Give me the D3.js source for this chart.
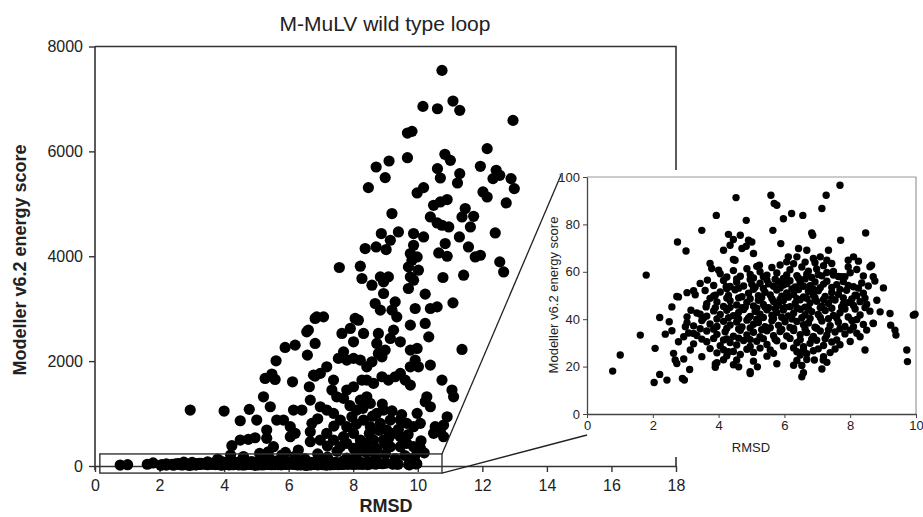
<!DOCTYPE html>
<html>
<head>
<meta charset="utf-8">
<script src="https://cdn.jsdelivr.net/npm/d3@7"></script>
<style>
  body { margin: 0; background: #fff; }
  text { font-family: "Liberation Sans", Arial, sans-serif; fill: #222; }
</style>
</head>
<body>
<svg id="chart" width="923" height="517"></svg>
<script>
// ---- data: [RMSD, energy] ----

// main plot, points well above the zoomed band
const mainHigh = [
  [10.75,7544],[10.16,6858],[10.61,6813],[11.09,6960],[11.30,6782],[12.95,6591],
  [9.68,6349],[9.82,6382],[12.15,6052],[8.71,5702],[9.11,5816],[9.68,5880],
  [10.84,5944],[11.01,5829],[8.99,5500],[8.47,5309],[10.61,5671],[10.70,5492],
  [11.30,5576],[11.23,5397],[11.94,5715],[12.43,5639],[12.54,5544],[12.33,5481],
  [12.89,5481],[12.99,5290],[12.02,5226],[12.15,5130],[12.74,5016],[10.18,5309],
  [9.98,5207],[10.91,5081],[10.70,5036],[10.49,4972],[9.20,4814],[11.47,4909],
  [11.37,4749],[11.73,4762],[11.63,4559],[10.39,4749],[10.60,4635],[10.75,4591],
  [10.96,4559],[12.40,4444],[8.87,4433],[9.15,4305],[9.40,4463],[8.37,4147],
  [8.71,4178],[9.02,4128],[9.87,4433],[10.18,4368],[9.87,4210],[9.77,4052],
  [9.98,3987],[10.85,4242],[10.65,4063],[10.91,4000],[11.29,4368],[11.57,4178],
  [11.94,4019],[11.78,3987],[12.54,3892],[12.66,3701],[7.57,3785],[8.22,3810],
  [8.27,3576],[8.84,3606],[9.09,3606],[8.58,3448],[8.94,3511],[9.71,3797],
  [9.82,3924],[10.02,3734],[9.77,3606],[10.78,3595],[11.42,3639],[9.71,3385],
  [9.87,3543],[10.23,3277],[8.94,3290],[8.68,3099],[8.84,2972],[9.30,3130],
  [9.20,2972],[9.92,3004],[10.39,3004],[10.60,3035],[11.09,3111],[6.87,2844],
  [7.08,2844],[8.06,2814]
];

const mainMid = [
  [2.95,1067],[4.00,1048],[4.50,863],[4.78,1080],[5.01,876],[4.24,387],
  [4.50,495],[4.75,508],[4.96,539],[5.22,1320],[5.43,1130],[5.27,1670],
  [5.48,1753],[5.58,1651],[5.61,2006],[5.89,2261],[6.20,2305],[6.12,1606],
  [5.32,686],[5.32,528],[5.53,368],[5.63,876],[5.84,876],[6.05,749],
  [6.20,623],[6.05,559],[6.15,1067],[6.41,1067],[6.56,2558],[6.82,2814],
  [6.82,2337],[6.58,2115],[6.64,1511],[6.82,1714],[6.67,1257],[6.72,813],
  [6.67,653],[6.67,463],[6.30,305],[5.37,272],[5.79,210],[6.61,2591],
  [7.65,2528],[7.91,2623],[8.16,2781],[8.01,2368],[8.32,2528],[9.35,2844],
  [9.77,2686],[10.23,2718],[10.34,2463],[9.25,2591],[9.15,2432],[9.46,2368],
  [9.77,2210],[9.98,2242],[8.78,2528],[8.73,2337],[8.99,2210],[8.78,2147],
  [11.37,2223],[7.70,2177],[7.54,2052],[7.80,2019],[8.01,2052],[8.22,2019],
  [8.42,1892],[8.58,1987],[8.89,2082],[6.77,1733],[6.98,1766],[7.18,1892],
  [7.39,1638],[7.34,1448],[7.49,1320],[7.70,1289],[7.80,1448],[8.01,1511],
  [8.27,1638],[8.42,1638],[8.63,1575],[8.89,1702],[9.09,1638],[9.30,1702],
  [9.46,1766],[9.61,1638],[9.77,1543],[9.77,1892],[9.92,2019],[10.02,1892],
  [10.39,1924],[10.75,1638],[11.06,1448],[11.11,1320],[10.28,1320],[10.23,1225],
  [10.39,1130],[10.91,939],[10.54,749],[10.70,653],[10.80,781],[9.98,1004],
  [10.08,813],[9.87,749],[9.66,813],[9.46,876],[9.15,876],[8.94,1067],
  [8.73,1004],[8.53,1194],[8.42,1320],[8.22,1257],[8.11,1067],[7.96,939],
  [8.32,876],[8.53,749],[8.84,813],[9.04,686],[9.25,623],[9.46,559],
  [9.66,432],[8.94,495],[8.63,495],[8.42,432],[8.22,495],[8.01,623],
  [7.80,749],[7.60,876],[7.39,1004],[7.18,1067],[6.98,1130],[6.98,495],
  [7.18,623],[7.39,495],[7.60,368],[7.80,432],[8.01,337],[8.42,337],
  [8.73,337],[9.15,368],[9.46,368],[9.87,368],[10.08,337],[10.49,623],
  [10.80,559],[7.90,1150],[8.30,1100],[8.60,950],[8.90,1180],[9.20,1050],
  [9.50,980],[8.10,800],[8.50,620],[8.80,680],[9.10,530],[9.40,700],
  [7.70,560],[8.20,380],[8.60,280],[9.00,420],[9.70,600],[10.10,480],
  [7.40,760],[7.20,380],[6.90,900]
];

const mainLow = [
  [3.8,130],[4.2,210],[4.6,180],[5.1,240],[5.4,150],[5.9,260],[6.2,190],
  [6.5,140],[6.9,230],[7.2,170],[7.5,280],[7.8,150],[8.1,210],[8.4,260],
  [8.7,160],[9.0,230],[9.3,140],[9.6,200],[9.9,170],[10.2,250]
];

// inset (energy 0-100): scattered points
const insetSparse = [
  [0.78,18.1],[1.01,24.9],[1.62,33.3],[1.80,58.6],[2.07,27.7],[2.04,13.3],
  [2.21,16.7],[2.43,14.3],[2.21,40.7],[2.38,33.7],[2.58,35.1],[2.58,45.2],
  [2.50,38.9],[2.63,25.6],[2.68,22.8],[2.73,21.3],[2.75,72.6],[2.78,49.4],
  [2.78,30.5],[2.90,15.0],[2.96,14.3],[2.94,23.2],[3.01,68.8],[2.94,32.6],
  [2.99,36.8],[3.04,41.0],[3.12,18.8],[3.14,27.0],[3.24,52.0],[3.16,43.8],
  [3.24,34.0],[3.44,42.1],[3.49,24.2],[3.49,77.5],[3.62,45.2],[3.66,56.5],
  [3.74,63.5],[3.79,61.4],[3.90,50.1],[3.90,21.1],[3.90,19.7],[3.93,83.8],
  [4.00,60.7],[4.15,69.1],[4.15,31.2],[4.23,53.7],[4.30,75.8],[4.35,71.2],
  [4.30,26.3],[4.45,73.6],[4.45,65.2],[4.50,64.9],[4.53,91.3],[4.55,22.8],
  [4.61,19.9],[4.66,75.4],[4.71,69.8],[4.84,70.8],[4.91,73.3],[4.96,17.1],
  [4.84,81.7],[5.06,67.7],[5.18,19.9],[5.24,62.8],[5.01,72.6],[5.59,92.3],
  [5.69,88.8],[5.77,88.1],[5.97,82.4],[5.65,77.5],[5.89,71.9],[6.22,84.6],
  [6.56,83.8],[6.43,69.8],[6.83,76.4],[6.86,75.4],[7.14,86.7],[7.27,92.3],
  [7.34,69.1],[7.69,96.5],[7.71,73.3],[8.47,76.4],[6.53,15.7],[6.91,22.8],
  [7.14,19.0],[7.18,22.8],[6.28,20.6],[8.15,50.1],[8.45,27.0],[9.01,53.2],
  [9.21,42.4],[9.23,37.5],[9.36,35.4],[9.39,33.3],[9.72,27.0],[9.74,22.1],
  [9.92,41.7],[9.97,42.1],[8.60,62.1],[8.65,62.8],[8.70,57.9],[8.81,48.0],
  [8.91,43.1],[8.70,38.2],[8.50,35.4],[8.30,32.6],[8.10,36.8],[8.10,66.3],
  [7.94,64.9],[7.74,57.9],[7.49,58.6],[7.44,63.5],[7.29,64.9],[7.09,66.3],
  [6.88,65.6],[6.68,69.1],[6.38,66.3],[6.12,66.3],[6.07,64.2]
];

// inset: dense cloud, upper half
const insetUpper = [
  [4.05,59.2],[4.25,57.8],[4.45,60.5],[4.66,58.1],[4.86,61.3],[5.06,57.4],[5.26,60.0],
  [5.47,58.6],[5.62,61.8],[5.77,59.5],[5.97,57.2],[6.17,60.9],[6.38,58.4],[6.53,62.0],
  [6.68,59.0],[6.83,57.6],[6.98,61.2],[7.14,58.3],[7.49,60.1],[7.84,57.9],[8.00,59.6],
  [8.20,61.0],[8.40,58.2],
  [3.44,55.1],[3.85,54.2],[4.15,56.3],[4.35,53.8],[4.55,55.6],[4.76,54.0],[4.96,56.8],
  [5.11,53.5],[5.26,55.2],[5.47,56.5],[5.67,53.9],[5.82,55.8],[5.97,54.4],[6.17,56.2],
  [6.33,53.6],[6.48,55.4],[6.63,57.0],[6.78,54.1],[6.93,55.7],[7.09,53.3],[7.29,56.0],
  [7.59,54.6],[7.79,55.9],[8.10,53.7],[8.35,55.3],[8.55,54.0],[8.75,56.1],
  [2.73,49.6],[3.04,51.2],[3.29,50.3],[3.59,52.1],[3.85,49.8],[4.05,51.5],[4.30,50.0],
  [4.50,52.4],[4.71,49.5],[4.91,51.0],[5.06,52.6],[5.21,49.9],[5.41,51.4],[5.57,50.2],
  [5.77,52.3],[5.92,49.7],[6.07,51.1],[6.28,50.4],[6.43,52.5],[6.58,49.4],[6.73,51.7],
  [6.88,50.1],[7.03,52.0],[7.24,49.6],[7.44,51.3],[7.64,50.5],[7.89,52.2],[8.20,49.9],
  [8.40,51.0],
  [3.64,46.5],[3.95,47.3],[4.15,45.4],[4.35,47.8],[4.55,46.0],[4.71,44.9],[4.86,47.1],
  [5.06,45.6],[5.21,48.0],[5.36,46.2],[5.52,44.8],[5.67,47.5],[5.82,45.9],[5.97,47.9],
  [6.17,45.3],[6.33,46.8],[6.48,48.2],[6.63,45.1],[6.78,46.9],[6.98,47.6],[7.14,45.5],
  [7.34,46.6],[7.54,48.1],[7.74,45.2],[7.94,47.0],[8.10,45.8],[8.30,47.4],[8.50,46.3]
];

// inset: dense cloud, lower half
const insetLower = [
  [3.34,42.6],[3.64,41.3],[3.85,43.5],[4.05,42.0],[4.25,43.8],[4.45,41.5],[4.61,42.9],
  [4.76,44.1],[4.96,41.2],[5.11,43.3],[5.26,42.1],[5.47,44.0],[5.62,41.7],[5.77,42.8],
  [5.97,43.9],[6.12,41.4],[6.28,42.5],[6.48,44.2],[6.63,41.9],[6.83,43.2],[7.03,42.0],
  [7.24,43.7],[7.49,41.6],[7.69,42.7],[7.84,44.3],[8.30,41.8],[8.60,43.4],
  [3.04,38.5],[3.24,37.2],[3.49,39.4],[3.74,38.0],[3.95,36.9],[4.15,39.1],[4.35,37.6],
  [4.55,38.8],[4.71,36.7],[4.86,39.6],[5.06,37.9],[5.21,38.6],[5.41,36.8],[5.62,39.3],
  [5.82,37.4],[6.02,38.9],[6.17,36.5],[6.38,39.0],[6.58,37.7],[6.73,38.4],[6.93,36.6],
  [7.14,39.2],[7.39,37.3],[7.64,38.7],[7.84,36.9],[8.05,39.5],[8.40,37.8],[8.70,38.3],
  [3.09,34.2],[3.34,33.1],[3.64,35.0],[3.95,33.6],[4.20,34.7],[4.45,32.8],[4.66,35.3],
  [4.86,33.4],[5.06,34.5],[5.26,32.6],[5.47,35.1],[5.67,33.0],[5.87,34.8],[6.07,32.9],
  [6.28,35.2],[6.48,33.5],[6.68,34.4],[6.88,32.7],[7.09,35.0],[7.29,33.3],[7.54,34.6],
  [7.84,33.8],[8.20,34.1],
  [3.24,29.6],[3.64,30.5],[4.05,28.8],[4.35,30.2],[4.55,29.1],[4.76,31.0],[4.96,28.5],
  [5.16,30.7],[5.47,29.3],[5.77,30.9],[5.97,28.7],[6.38,30.1],[6.58,28.4],[6.78,29.8],
  [6.98,31.1],[7.19,28.9],[7.44,30.4],[7.69,29.2],[8.00,30.6],
  [3.95,25.8],[4.25,24.6],[4.45,26.4],[4.66,25.1],[5.06,26.0],[5.47,24.4],[5.67,25.6],
  [6.38,26.3],[6.48,24.9],[6.68,25.4],[6.88,26.7],[7.19,24.2],[7.39,25.9],
  [3.95,21.6],[4.15,22.9],[4.45,20.8],[5.06,22.3],[5.77,21.2],[6.38,22.6],[6.53,20.5],
  [6.68,23.0],[7.29,21.8],[4.96,17.8],[6.58,17.4]
];

// inset: points filling the gaps of the dense core
const insetCore = [
  [4.55,57.0],[4.96,58.9],[5.36,57.9],[5.72,56.9],[6.07,58.7],[6.43,57.3],[6.73,60.3],
  [7.03,58.8],[7.29,59.7],[7.64,58.0],[5.16,62.3],[5.87,62.9],[6.28,63.4],[6.63,64.1],
  [7.19,62.6],[7.94,62.0],[8.25,64.5],[6.93,63.8],
  [4.25,52.9],[4.61,53.1],[5.01,54.7],[5.36,53.0],[5.52,54.9],[5.87,53.2],[6.07,55.0],
  [6.23,52.8],[6.58,53.9],[6.88,52.7],[7.19,54.8],[7.44,53.4],[7.69,52.6],[7.94,54.2],
  [8.25,53.1],
  [3.74,48.8],[4.25,48.9],[4.61,49.0],[4.96,48.6],[5.31,49.2],[5.62,48.7],[5.87,48.4],
  [6.12,49.3],[6.38,48.6],[6.68,48.8],[6.93,49.1],[7.19,48.3],[7.44,48.7],[7.79,49.0],
  [8.05,48.5],[8.45,48.9],
  [3.90,44.8],[4.35,45.0],[4.81,45.2],[5.16,44.6],[5.41,45.1],[5.72,44.5],[6.02,45.0],
  [6.38,44.7],[6.73,44.5],[7.09,44.9],[7.44,44.6],[7.79,46.4],[8.15,44.3],[8.45,44.9],
  [3.54,40.4],[3.95,40.1],[4.30,40.6],[4.61,40.2],[4.91,40.5],[5.16,40.0],[5.36,40.7],
  [5.67,40.3],[5.92,40.8],[6.23,40.1],[6.53,40.6],[6.78,40.3],[7.09,40.7],[7.34,40.2],
  [7.59,40.5],[7.94,40.9],[8.20,39.9],
  [3.44,36.0],[3.85,35.8],[4.25,36.2],[4.61,35.9],[4.96,36.3],[5.31,35.6],[5.57,36.4],
  [5.92,35.7],[6.28,36.1],[6.63,35.8],[6.98,36.2],[7.34,35.5],[7.69,36.0],[8.00,35.4],
  [3.49,31.6],[3.85,31.9],[4.25,31.7],[4.61,32.0],[4.96,31.4],[5.36,31.8],[5.72,31.5],
  [6.17,31.9],[6.48,31.3],[6.83,31.6],[7.24,31.8],[7.59,31.2],
  [3.74,27.6],[4.15,27.1],[4.86,27.3],[5.26,27.8],[5.57,27.0],[6.28,27.9],[6.58,27.2],
  [7.03,27.5],[7.54,27.4]
];

const mainXTicks = [0, 2, 4, 6, 8, 10, 12, 14, 16, 18];
const mainYTicks = [0, 2000, 4000, 6000, 8000];
const insetXTicks = [0, 2, 4, 6, 8, 10];
const insetYTicks = [0, 20, 40, 60, 80, 100];

const insetData = insetSparse.concat(insetUpper, insetLower, insetCore);
const mainData = insetData.concat(mainLow, mainMid, mainHigh);

const svg = d3.select("#chart");
const axisColor = "#333";
const fmt = d3.format("d");

// ---- main chart ----
const x = d3.scaleLinear().domain([0, 18]).range([95, 676]);
const y = d3.scaleLinear().domain([0, 8000]).range([466, 46.5]);

svg.append("text")
  .attr("x", 385).attr("y", 31)
  .attr("text-anchor", "middle")
  .style("font-size", "21px")
  .text("M-MuLV wild type loop");

// frame top + right
svg.append("path")
  .attr("d", `M${x(0)},${y(8000)}H${x(18)}V${y(0)}`)
  .attr("fill", "none").attr("stroke", axisColor).attr("stroke-width", 1.6);

const yAxis = svg.append("g")
  .attr("transform", `translate(${x(0)},0)`)
  .call(d3.axisLeft(y).tickValues(mainYTicks).tickFormat(fmt)
    .tickSize(6).tickSizeOuter(0).tickPadding(6));
const xAxis = svg.append("g")
  .attr("transform", `translate(0,${y(0)})`)
  .call(d3.axisBottom(x).tickValues(mainXTicks).tickFormat(fmt)
    .tickSize(6).tickSizeOuter(0).tickPadding(8));
[xAxis, yAxis].forEach((g) => {
  g.select(".domain").attr("stroke", axisColor).attr("stroke-width", 1.6);
  g.selectAll(".tick line").attr("stroke", axisColor).attr("stroke-width", 1.4);
  g.selectAll("text").style("font-size", "16px")
    .style("font-family", "'Liberation Sans', Arial, sans-serif").attr("fill", "#222");
});
yAxis.select(".domain").attr("d", `M0,${y(8000)}V${y(0) + 4}`);

svg.append("g")
  .selectAll("circle")
  .data(mainData)
  .join("circle")
  .attr("cx", (d) => x(d[0]))
  .attr("cy", (d) => y(d[1]))
  .attr("r", 5.6)
  .attr("fill", "#000");

// zoom box around the low-energy band
const box = { x0: 0.15, x1: 10.75, top: 230, bottom: -135 };
svg.append("rect")
  .attr("x", x(box.x0)).attr("y", y(box.top))
  .attr("width", x(box.x1) - x(box.x0))
  .attr("height", y(box.bottom) - y(box.top))
  .attr("fill", "none").attr("stroke", axisColor).attr("stroke-width", 1.4);

svg.append("text")
  .attr("transform", "translate(26,260) rotate(-90)")
  .attr("text-anchor", "middle")
  .style("font-size", "18px").style("font-weight", "bold")
  .text("Modeller v6.2 energy score");
svg.append("text")
  .attr("x", 386).attr("y", 512)
  .attr("text-anchor", "middle")
  .style("font-size", "18px").style("font-weight", "bold")
  .text("RMSD");

// ---- inset ----
const xi = d3.scaleLinear().domain([0, 10]).range([587, 916]);
const yi = d3.scaleLinear().domain([0, 100]).range([414, 177]);

svg.append("rect")
  .attr("x", 548).attr("y", 170).attr("width", 375).attr("height", 287)
  .attr("fill", "#fff");

// connecting lines
svg.append("line")
  .attr("x1", x(box.x1)).attr("y1", y(box.top))
  .attr("x2", 561).attr("y2", 175)
  .attr("stroke", "#222").attr("stroke-width", 1.3);
svg.append("line")
  .attr("x1", x(box.x1)).attr("y1", y(box.bottom))
  .attr("x2", 587).attr("y2", 435)
  .attr("stroke", "#222").attr("stroke-width", 1.3);

svg.append("path")
  .attr("d", `M${xi(0)},${yi(100)}H${xi(10)}V${yi(0)}`)
  .attr("fill", "none").attr("stroke", "#999").attr("stroke-width", 1.2);

const yiAxis = svg.append("g")
  .attr("transform", `translate(${xi(0)},0)`)
  .call(d3.axisLeft(yi).tickValues(insetYTicks).tickSize(4).tickSizeOuter(0).tickPadding(3));
const xiAxis = svg.append("g")
  .attr("transform", `translate(0,${yi(0)})`)
  .call(d3.axisBottom(xi).tickValues(insetXTicks).tickSize(4).tickSizeOuter(0).tickPadding(3));
[xiAxis, yiAxis].forEach((g) => {
  g.select(".domain").attr("stroke", "#444").attr("stroke-width", 1.3);
  g.selectAll(".tick line").attr("stroke", "#444");
  g.selectAll("text").style("font-size", "13px")
    .style("font-family", "'Liberation Sans', Arial, sans-serif").attr("fill", "#222");
});

svg.append("g")
  .selectAll("circle")
  .data(insetData)
  .join("circle")
  .attr("cx", (d) => xi(d[0]))
  .attr("cy", (d) => yi(d[1]))
  .attr("r", 3.7)
  .attr("fill", "#000");

svg.append("text")
  .attr("transform", "translate(558,295) rotate(-90)")
  .attr("text-anchor", "middle")
  .style("font-size", "13px")
  .text("Modeller v6.2 energy score");
svg.append("text")
  .attr("x", 751).attr("y", 452)
  .attr("text-anchor", "middle")
  .style("font-size", "13px")
  .text("RMSD");
</script>
</body>
</html>
